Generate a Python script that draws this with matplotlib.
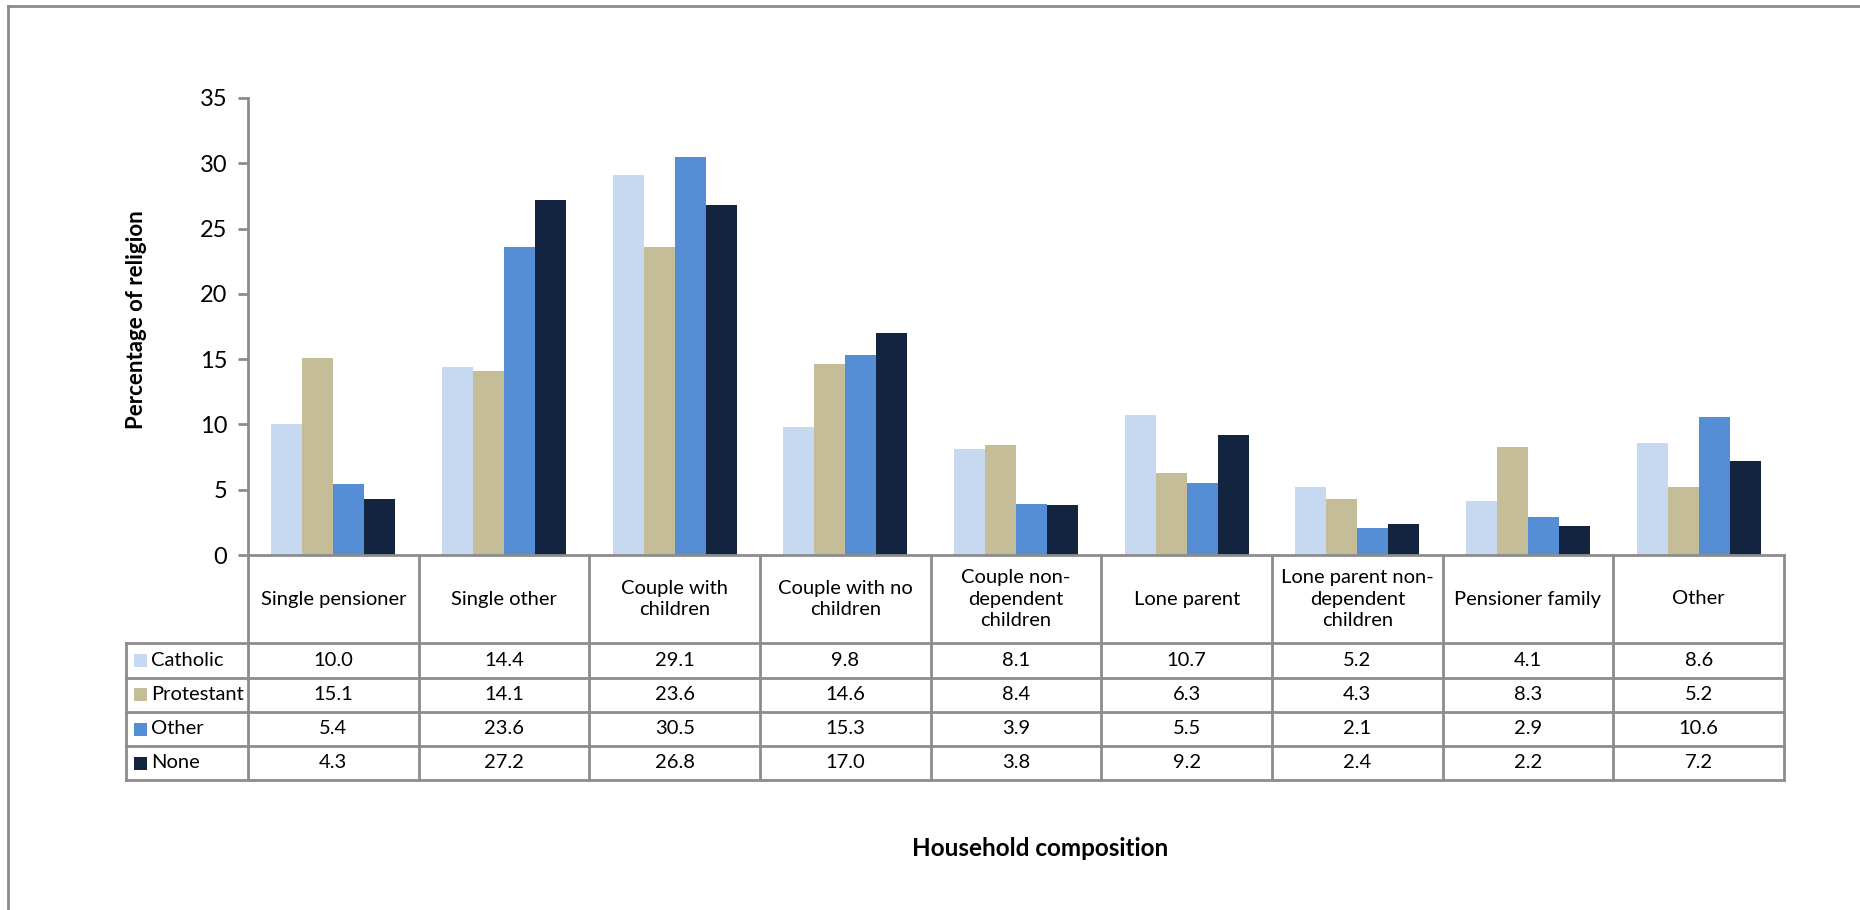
import numpy as np
import matplotlib.pyplot as plt
from matplotlib.patches import Rectangle
from matplotlib.lines import Line2D

plt.rcParams['font.family'] = ['Lato', 'DejaVu Sans']

# data
categories = ['Single pensioner', 'Single other', 'Couple with\nchildren', 'Couple with no\nchildren',
              'Couple non-\ndependent\nchildren', 'Lone parent', 'Lone parent non-\ndependent\nchildren',
              'Pensioner family', 'Other']
series = ['Catholic', 'Protestant', 'Other', 'None']
catholic = [10.0, 14.4, 29.1, 9.8, 8.1, 10.7, 5.2, 4.1, 8.6]
protestant = [15.1, 14.1, 23.6, 14.6, 8.4, 6.3, 4.3, 8.3, 5.2]
other = [5.4, 23.6, 30.5, 15.3, 3.9, 5.5, 2.1, 2.9, 10.6]
none = [4.3, 27.2, 26.8, 17.0, 3.8, 9.2, 2.4, 2.2, 7.2]
values = [catholic, protestant, other, none]
colors = ['#C6D9F1', '#C4BD97', '#558ED5', '#12243F']
grid = '#8C8C8C'

W, H = 1860, 910
def fx(p): return p / W
def fy(p): return 1 - p / H

fig = plt.figure(figsize=(W / 100, H / 100), dpi=100)

# outer chart frame (runs off right/bottom edge)
fig.add_artist(Line2D([fx(8), fx(8)], [fy(6), 0], color=grid, lw=2))
fig.add_artist(Line2D([fx(8), 1], [fy(6), fy(6)], color=grid, lw=2))

# bar area
ax = fig.add_axes([fx(248), fy(555), (1784 - 248) / W, (555 - 98) / H])
x = np.arange(len(categories))
bw = 0.182
for i, (vals, c) in enumerate(zip(values, colors)):
    ax.bar(x + (i - 1.5) * bw, vals, width=bw, color=c, label=series[i])
ax.set_xlim(-0.5, len(categories) - 0.5)
ax.set_ylim(0, 35)
ax.set_yticks(range(0, 36, 5))
ax.set_xticks([])
for s in ['top', 'right']:
    ax.spines[s].set_visible(False)
for s in ['left', 'bottom']:
    ax.spines[s].set_color(grid)
    ax.spines[s].set_linewidth(2)
ax.tick_params(axis='y', colors=grid, length=7, width=2, labelcolor='black', labelsize=17, pad=8)

# data table under the bars
left_w = (248 - 126) / ((1784 - 248) / 9)
tax = fig.add_axes([fx(126), fy(780), (1784 - 126) / W, (780 - 555) / H])
tax.set_xlim(-0.5 - left_w, len(categories) - 0.5)
tax.set_ylim(0, 225)
tax.axis('off')
row_lines = [137, 102.5, 68, 34, 0]
for yy in row_lines:
    tax.plot([-0.5 - left_w, len(categories) - 0.5], [yy, yy], color=grid, lw=2, clip_on=False)
for k in range(len(categories) + 1):
    tax.plot([k - 0.5, k - 0.5], [0, 225], color=grid, lw=2, clip_on=False)
tax.plot([-0.5 - left_w] * 2, [0, 137], color=grid, lw=2, clip_on=False)

for j, cat in enumerate(categories):
    tax.text(j, 181, cat, ha='center', va='center', fontsize=14.5, linespacing=1.35)

px_unit = (1784 - 248) / 9
for i, (name, vals, c) in enumerate(zip(series, values, colors)):
    yc = (row_lines[i] + row_lines[i + 1]) / 2
    tax.add_patch(Rectangle((-0.5 - left_w + 8 / px_unit, yc - 6.5), 13 / px_unit, 13,
                            facecolor=c, edgecolor='none', clip_on=False))
    tax.text(-0.5 - left_w + 25 / px_unit, yc, name, ha='left', va='center', fontsize=14.5)
    for j, v in enumerate(vals):
        tax.text(j, yc, f'{v:.1f}', ha='center', va='center', fontsize=14.5)

fig.text(fx(136), fy(320), 'Percentage of religion', rotation=90, ha='center', va='center',
         fontsize=16, fontweight='bold')
fig.text(fx(1040), fy(848), 'Household composition', ha='center', va='center',
         fontsize=17.5, fontweight='bold')

fig.savefig('out.png', dpi=100)
